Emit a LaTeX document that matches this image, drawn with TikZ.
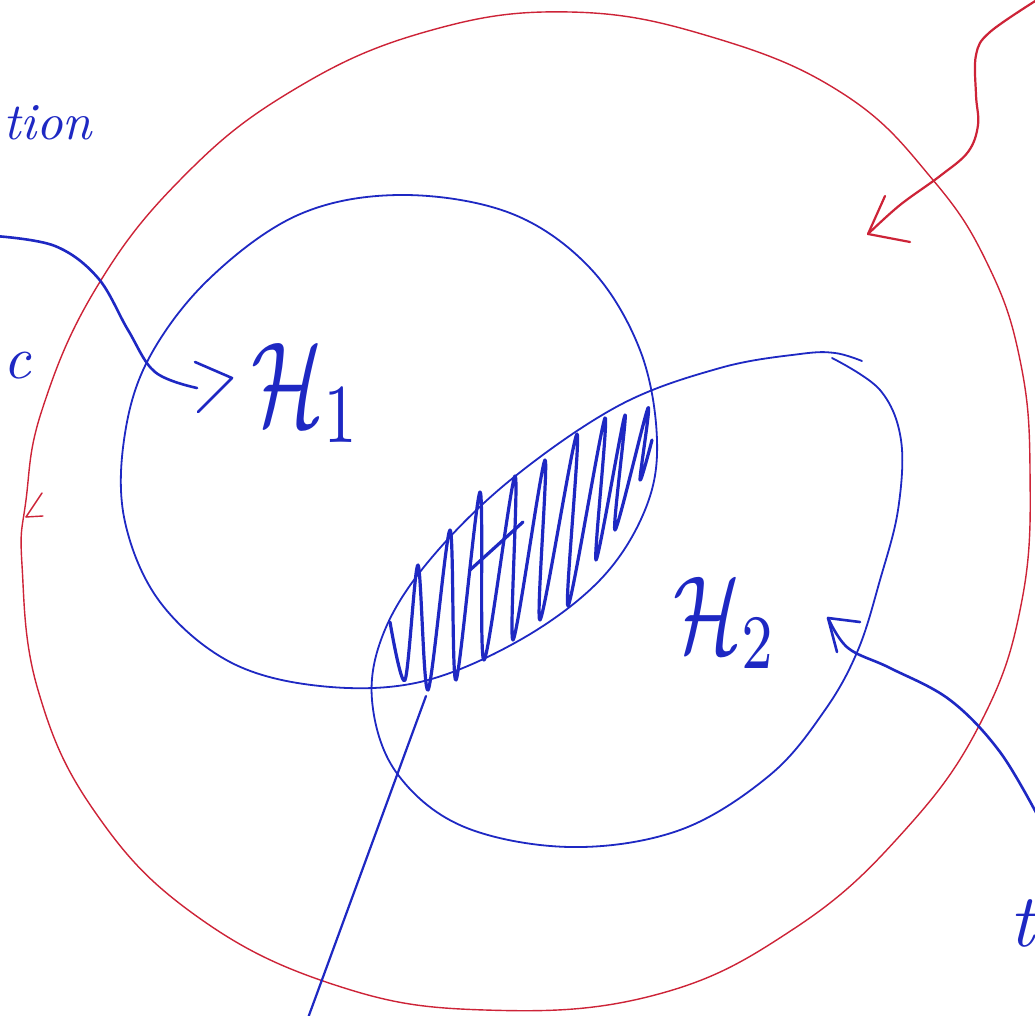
\documentclass[tikz,border=0pt]{standalone}
\usepackage{amsmath}
\definecolor{pen}{RGB}{30,40,195}
\definecolor{redpen}{RGB}{205,35,55}
\tikzset{
  thinblue/.style={draw=pen, line width=1.8pt, line cap=round, line join=round},
  thickblue/.style={draw=pen, line width=3.2pt, line cap=round, line join=round},
  thinred/.style={draw=redpen, line width=1.4pt, line cap=round, line join=round},
  redarrow/.style={draw=redpen, line width=2.2pt, line cap=round, line join=round},
  handlabel/.style={text=pen, inner sep=0pt, anchor=base west},
}
\begin{document}
\begin{tikzpicture}[x=1pt,y=-1pt]
\useasboundingbox (0,0) rectangle (1035,1016);
\clip (0,0) rectangle (1035,1016);
\fill[white] (0,0) rectangle (1035,1016);

% red outer circle (the whole space)
\draw[thinred] plot[smooth cycle, tension=0.7] coordinates {
  (570,12) (715,38) (845,95) (933,180) (988,265) (1020,360) (1030,470)
  (1022,600) (982,720) (905,830) (795,928) (655,995) (485,1010)
  (335,985) (195,915) (95,812) (38,690) (22,565) (26,500) (42,410) (95,290)
  (180,180) (290,92) (425,32)};
% small tick on the red circle at left
\coordinate (rt) at (26,517);
\draw[thinred] (rt) -- (42,493);
\draw[thinred] (rt) -- (43,516);

% red arrow from top right
\coordinate (rtip) at (868,234);
\draw[redarrow] plot[smooth, tension=0.6] coordinates {
  (1040,-2) (990,32) (976,55) (976,95) (978,125) (968,152) (940,176) (900,205) (868,234)};
\draw[redarrow] (885,196) -- (rtip) -- (910,242);

% H1 circle
\draw[thinblue] plot[smooth cycle, tension=0.6] coordinates {
  (400,195) (510,213) (590,268) (640,350) (657,440) (645,510) (600,580)
  (520,640) (420,682) (320,686) (230,662) (160,602) (125,522) (124,440)
  (148,360) (208,280) (298,215)};

% H2 ellipse (open at the top, as hand drawn)
\draw[thinblue] plot[smooth, tension=0.6] coordinates {
  (832,358) (880,390) (901,440) (898,510) (880,580) (858,650) (825,710)
  (770,775) (680,830) (570,847) (462,826) (396,772) (372,700) (384,632)
  (428,562) (508,482) (618,406) (720,368) (800,354) (835,353) (862,361)};

% shaded intersection (scribble)
\draw[thickblue] plot[smooth, tension=0.5] coordinates {
  (390,622) (405,680) (418,565) (428,690) (450,530) (456,680) (480,492)
  (484,660) (515,476) (513,640) (545,460) (540,620) (577,434) (568,606)
  (605,418) (596,560) (625,415) (615,530) (648,408) (640,480) (652,440)};
\draw[thickblue] (470,570) -- (523,522);

% pointer to the intersection from below
\coordinate (ps) at (308,1018);
\coordinate (pe) at (426,696);
\draw[thinblue, line width=2.2pt] (ps) -- (pe);

% labels
\node[handlabel, xscale=8.5, yscale=12] (h1) at (250,425) {$\mathcal{H}_1$};
\node[handlabel, xscale=8, yscale=11] (h2) at (672,652) {$\mathcal{H}_2$};

% arrow from the left to H1
\coordinate (a1tip) at (232,378);
\draw[thickblue, line width=2.6pt] plot[smooth, tension=0.6] coordinates {
  (-5,236) (55,246) (98,278) (128,330) (155,372) (197,388)};
\draw[thickblue, line width=2.6pt] (195,362) -- (a1tip) -- (198,412);

% arrow from bottom right to H2
\coordinate (a2tip) at (828,618);
\draw[thickblue, line width=2.6pt] plot[smooth, tension=0.6] coordinates {
  (828,618) (848,648) (890,668) (950,700) (1000,752) (1040,820)};
\draw[thickblue, line width=2.6pt] (860,622) -- (a2tip) -- (837,652);

% partial words at the edges
\node[handlabel, scale=5.2] (tl) at (2,140) {\textit{tion}};
\node[handlabel, scale=6] (ml) at (2,378) {\textit{c}};
\node[handlabel, scale=7.5] (br) at (1008,946) {\textit{t}};
\end{tikzpicture}
\end{document}
